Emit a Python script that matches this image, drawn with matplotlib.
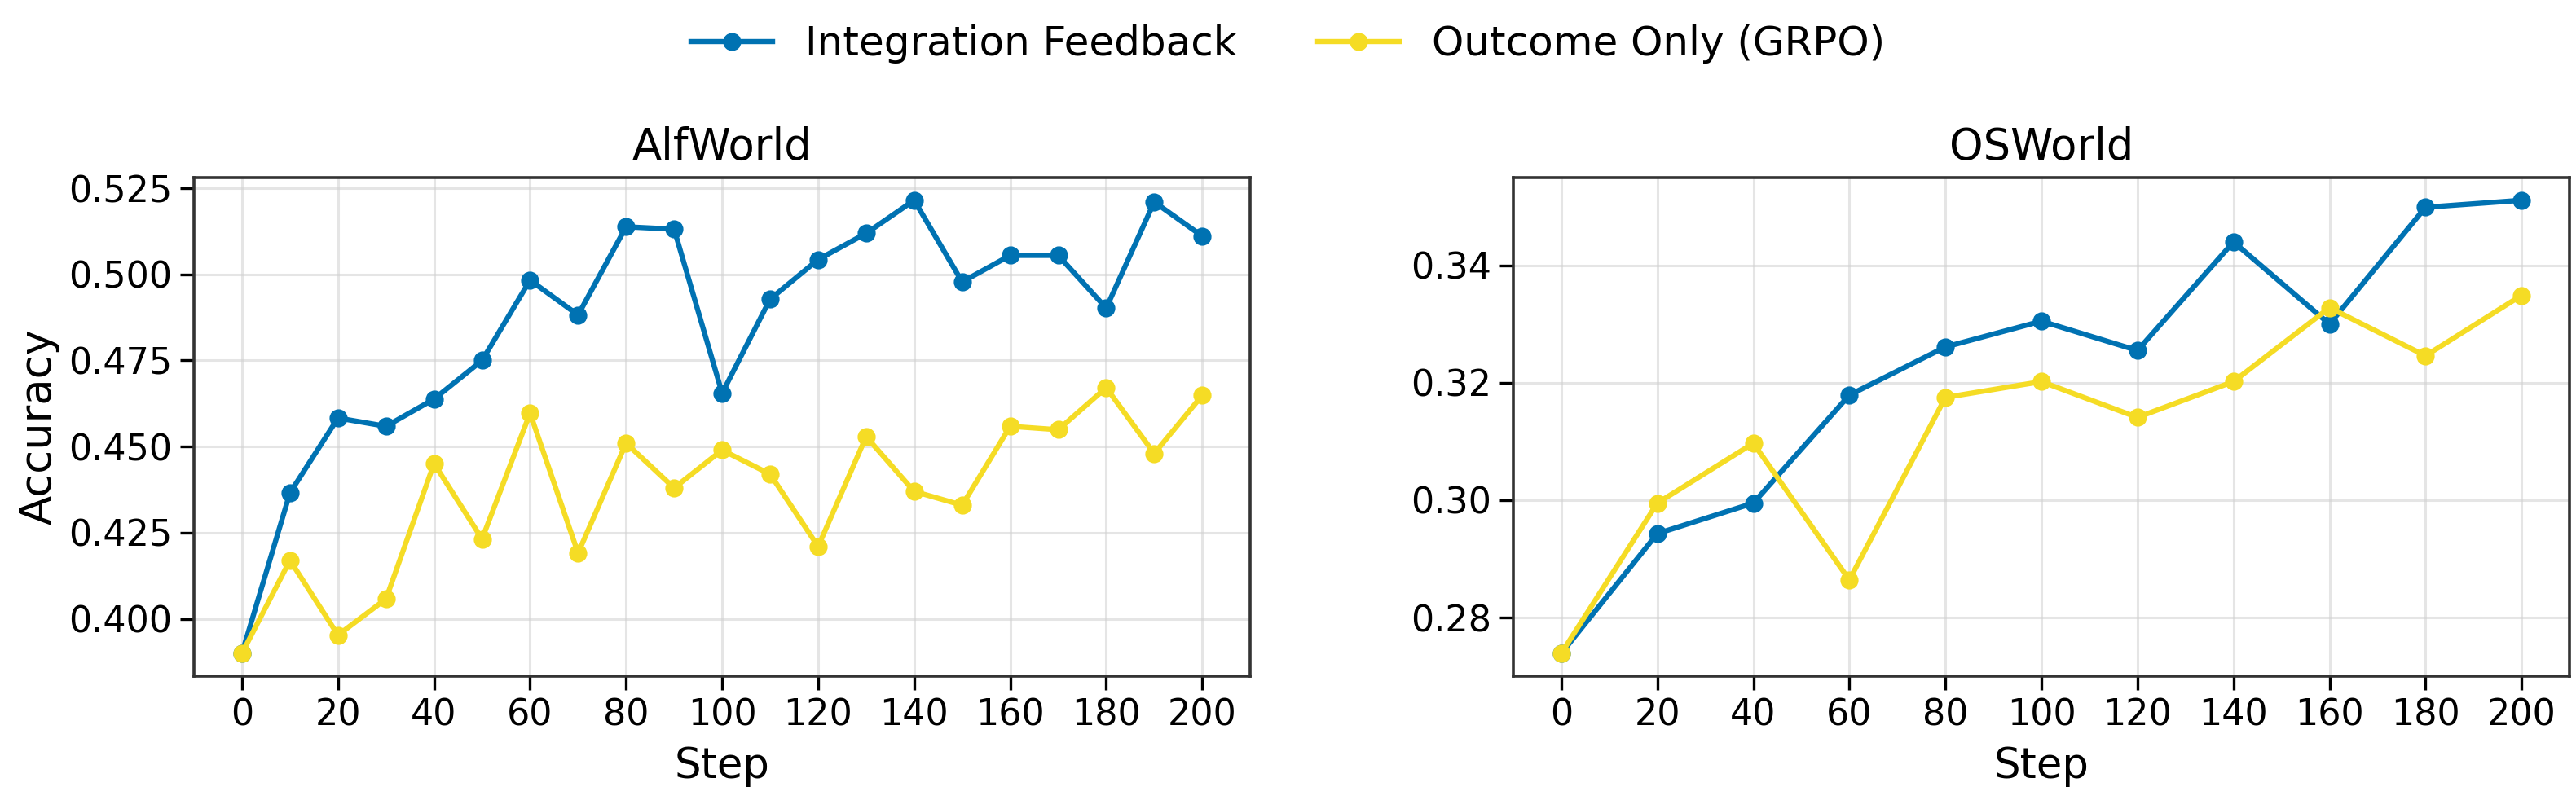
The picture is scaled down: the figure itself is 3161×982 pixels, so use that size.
import matplotlib.pyplot as plt

# ── Data ──────────────────────────────────────────────────────
alf_steps = [0, 10, 20, 30, 40, 50, 60, 70, 80, 90, 100,
             110, 120, 130, 140, 150, 160, 170, 180, 190, 200]
alf_integration = [0.390, 0.4366, 0.4583, 0.4559, 0.4638, 0.4750, 0.4983,
                   0.4882, 0.5138, 0.5131, 0.4655, 0.4928, 0.5043, 0.5119,
                   0.5215, 0.4978, 0.5055, 0.5055, 0.4902, 0.5210, 0.5111]
alf_outcome = [0.390, 0.4170, 0.3953, 0.4058, 0.4451, 0.4232, 0.4597,
               0.4191, 0.4510, 0.4380, 0.4490, 0.4420, 0.4210, 0.4529,
               0.4370, 0.4330, 0.4559, 0.4549, 0.4671, 0.4480, 0.4649]

os_steps = [0, 20, 40, 60, 80, 100, 120, 140, 160, 180, 200]
os_integration = [0.2739, 0.2943, 0.2995, 0.3179, 0.3261, 0.3305,
                  0.3255, 0.3440, 0.3300, 0.3499, 0.3511]
os_outcome = [0.2739, 0.2995, 0.3097, 0.2864, 0.3175, 0.3202,
              0.3141, 0.3202, 0.3328, 0.3246, 0.3349]

labels = ["Integration Feedback", "Outcome Only (GRPO)"]
colors = ["#0072B2", "#F5DC25"]
xticks = [0, 20, 40, 60, 80, 100, 120, 140, 160, 180, 200]

# ── Figure ────────────────────────────────────────────────────
fig, axes = plt.subplots(1, 2, figsize=(15.805, 4.91), dpi=200)
fig.subplots_adjust(left=0.0753, right=0.9975, bottom=0.155, top=0.778, wspace=0.249)

panels = [
    ("AlfWorld", alf_steps, alf_integration, alf_outcome),
    ("OSWorld", os_steps, os_integration, os_outcome),
]

for ax, (title, steps, integ, outc) in zip(axes, panels):
    ax.plot(steps, integ, color=colors[0], marker="o", linewidth=2.3,
            markersize=7, label=labels[0])
    ax.plot(steps, outc, color=colors[1], marker="o", linewidth=2.3,
            markersize=7, label=labels[1])
    ax.set_title(title, fontsize=19, pad=8)
    ax.set_xlabel("Step", fontsize=18.5, labelpad=6)
    ax.set_xticks(xticks)
    ax.tick_params(labelsize=16, width=1.2, length=6)
    ax.grid(True, color="#d0d0d0", alpha=0.55, linewidth=1.1)
    ax.set_axisbelow(True)
    for sp in ax.spines.values():
        sp.set_color("#333333")
        sp.set_linewidth(1.3)

axes[0].set_ylabel("Accuracy", fontsize=19)
axes[0].set_yticks([0.400, 0.425, 0.450, 0.475, 0.500, 0.525])
axes[0].yaxis.set_major_formatter(plt.FormatStrFormatter("%.3f"))
axes[1].set_yticks([0.28, 0.30, 0.32, 0.34])
axes[1].yaxis.set_major_formatter(plt.FormatStrFormatter("%.2f"))

handles, leg_labels = axes[0].get_legend_handles_labels()
fig.legend(handles, leg_labels, loc="center", bbox_to_anchor=(0.5, 0.945),
           ncol=2, frameon=False, fontsize=18, columnspacing=2.0,
           handlelength=2.0)

fig.savefig("out.png", dpi=200)
